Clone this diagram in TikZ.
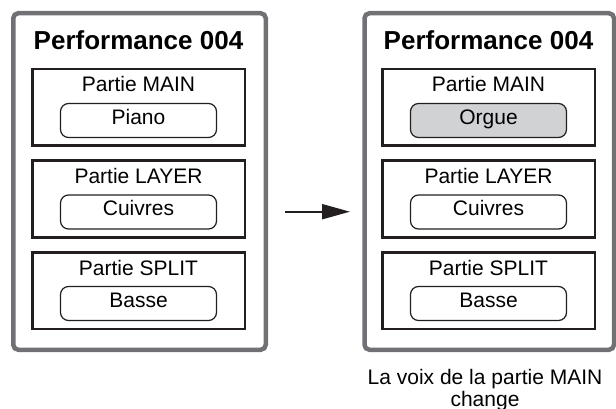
\documentclass[tikz,border=0pt]{standalone}
\usepackage{fontspec}
\setmainfont{Liberation Sans}
\usetikzlibrary{arrows.meta}

\definecolor{framegray}{RGB}{112,113,116}
\definecolor{inkblack}{RGB}{35,31,32}
\definecolor{voicegray}{RGB}{209,210,212}

\begin{document}
\begin{tikzpicture}[x=1pt,y=-1pt]

\tikzset{
    panel/.style={
        draw=framegray,
        line width=4.5pt,
        rounded corners=5pt,
        inner sep=0pt,
    },
    partbox/.style={
        draw=inkblack,
        line width=2.5pt,
        minimum width=212.5pt,
        minimum height=76.5pt,
        inner sep=0pt,
    },
    voicebox/.style={
        draw=inkblack,
        line width=1.2pt,
        rounded corners=8pt,
        minimum width=156pt,
        minimum height=34pt,
        inner sep=0pt,
        text height=12pt,
        text depth=4.6pt,
        font=\fontsize{21}{22}\selectfont,
    },
    parttext/.style={
        anchor=base,
        inner sep=0pt,
        font=\fontsize{21}{22}\selectfont,
    },
    titletext/.style={
        anchor=base,
        inner sep=0pt,
        font=\fontsize{26}{28}\selectfont\bfseries,
    },
    flow/.style={
        draw=inkblack,
        line width=2pt,
        -{Triangle[length=28pt,width=15pt]},
    }
}

\useasboundingbox (0,0) rectangle (616,409);

% before
\node (lpanel) [panel,minimum width=252.5pt,minimum height=336.5pt] at (139.5,181.5) {};
\node (ltitle) [titletext] at (138.5,50) {Performance 004};
\foreach \i/\part/\voice in {0/MAIN/Piano,1/LAYER/Cuivres,2/SPLIT/Basse}{
    \node (lpart\i) [partbox] at (138.5,107.5+91.5*\i) {};
    \node (llabel\i) [parttext] at (138.5,92+91.5*\i) {Partie \part};
    \node (lvoice\i) [voicebox] at (138.5,120.5+91.5*\i) {\voice};
}

% after
\begin{scope}[shift={(350,0)}]
\node (rpanel) [panel,minimum width=249.5pt,minimum height=336.5pt] at (139.25,181.5) {};
\node (rtitle) [titletext] at (138.5,50) {Performance 004};
\foreach \i/\part/\voice/\shade in {0/MAIN/Orgue/voicegray,1/LAYER/Cuivres/white,2/SPLIT/Basse/white}{
    \node (rpart\i) [partbox] at (138.5,107.5+91.5*\i) {};
    \node (rlabel\i) [parttext] at (138.5,92+91.5*\i) {Partie \part};
    \node (rvoice\i) [voicebox,fill=\shade] at (138.5,120.5+91.5*\i) {\voice};
}
\end{scope}

\coordinate (arrowtail) at (285,211.7);
\coordinate (arrowtip) at (350,211.7);
\draw[flow] (arrowtail) -- (arrowtip);

\node (caption) [parttext,align=center] at (485,406) {La voix de la partie MAIN\\change};

\end{tikzpicture}
\end{document}
